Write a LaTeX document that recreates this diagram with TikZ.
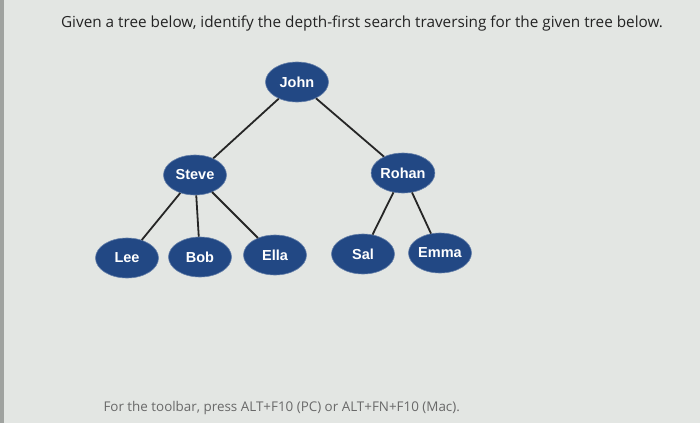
\documentclass[tikz,border=0pt]{standalone}
\usepackage{fontspec}
\setmainfont{Open Sans}
\newfontfamily\labelfont{Liberation Sans}
\usetikzlibrary{positioning, shapes.geometric}
\definecolor{cBg}{RGB}{227,230,227}
\definecolor{cEdge}{RGB}{160,163,160}
\definecolor{cNode}{RGB}{34,72,132}
\definecolor{cText}{RGB}{35,35,35}
\definecolor{cHint}{RGB}{105,105,105}

\begin{document}
\begin{tikzpicture}[x=1pt, y=-1pt, on grid,
    person/.style={ellipse, fill=cNode, draw=cNode!70!white, line width=0.6pt,
        minimum width=63pt, minimum height=40pt, inner sep=0pt,
        text=white, font=\labelfont\bfseries\fontsize{14.5}{16}\selectfont},
    branch/.style={draw=black!85, line width=1.8pt}]
    % Screen background
    \fill[cBg] (0,0) rectangle (700,423);
    \fill[cEdge] (0,0) rectangle (4,423);
    \useasboundingbox (0,0) rectangle (700,423);

    % Question text
    \node[text=cText, font=\fontsize{15.3}{17}\selectfont] (question) at (362,23)
        {Given a tree below, identify the depth-first search traversing for the given tree below.};

    % Tree nodes
    \node[person] (John) at (297,82) {John};
    \node[person] (Steve) [below left=93pt and 102pt of John] {Steve};
    \node[person] (Rohan) [below right=91pt and 106pt of John] {Rohan};
    \node[person] (Lee) [below left=83pt and 68pt of Steve] {Lee};
    \node[person] (Bob) [below right=82pt and 5pt of Steve] {Bob};
    \node[person] (Ella) [below right=80pt and 80pt of Steve] {Ella};
    \node[person] (Sal) [below left=81pt and 40pt of Rohan] {Sal};
    \node[person] (Emma) [below right=80pt and 37pt of Rohan] {Emma};

    % Branches
    \draw[branch] (John) -- (Steve);
    \draw[branch] (John) -- (Rohan);
    \draw[branch] (Steve) -- (Lee);
    \draw[branch] (Steve) -- (Bob);
    \draw[branch] (Steve) -- (Ella);
    \draw[branch] (Rohan) -- (Sal);
    \draw[branch] (Rohan) -- (Emma);

    % Footer hint
    \node[anchor=west, text=cHint, font=\fontsize{13.4}{15}\selectfont] (hint) at (100,408)
        {For the toolbar, press ALT+F10 (PC) or ALT+FN+F10 (Mac).};
\end{tikzpicture}
\end{document}
